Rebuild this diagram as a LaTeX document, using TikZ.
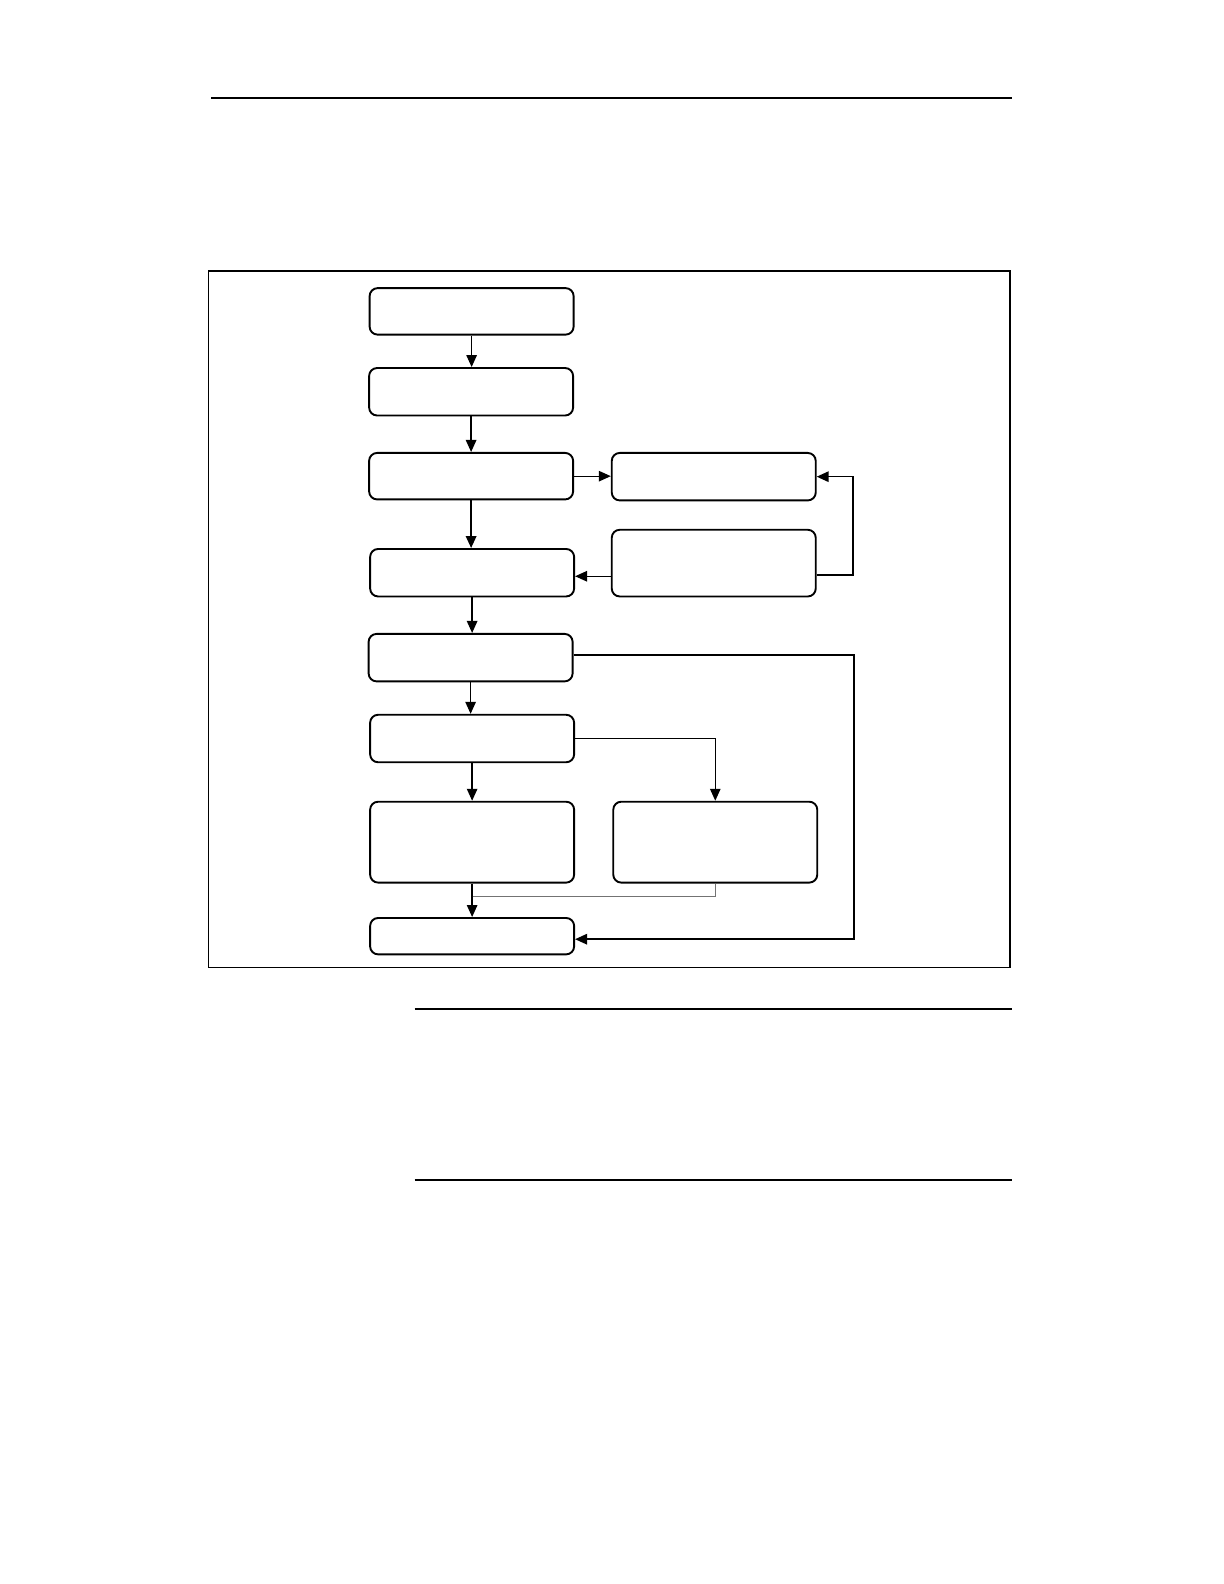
\documentclass[tikz,border=0pt]{standalone}
\usetikzlibrary{arrows.meta}
\begin{document}
\begin{tikzpicture}[x=1.011pt,y=-1.011pt,
  box/.style={draw,line width=1.9pt,rounded corners=8pt,inner sep=0pt,minimum width=204pt},
  arr/.style={line width=1.3pt,-{Triangle[length=12pt,width=10.5pt]}},
  arrthick/.style={line width=1.9pt,-{Triangle[length=12pt,width=10.5pt]}},
  loop/.style={line width=1.6pt,draw=black,-{Triangle[length=12pt,width=10.5pt]}},
  joinline/.style={line width=1pt,draw=black!55},
  rule/.style={line width=1.3pt}]
\useasboundingbox (0,0) rectangle (1210.7,1566.8);
\fill[white] (0,0) rectangle (1210.7,1566.8);
% page rules
\coordinate (t1) at (209,97); \coordinate (t2) at (1001,97);
\draw[rule] (t1) -- (t2);
\coordinate (m1) at (410,998); \coordinate (m2) at (1001,998);
\draw[rule] (m1) -- (m2);
\coordinate (b1) at (410,1167); \coordinate (b2) at (1001,1167);
\draw[line width=2pt] (b1) -- (b2);
% frame
\coordinate (f1) at (206,268); \coordinate (f2) at (999,957);
\draw[line width=1.2pt] (f1) rectangle (f2);
% boxes
\node[box,minimum height=46.5pt] (B1) at (466.5,308) {};
\node[box,minimum height=47.5pt] (B2) at (466,387.5) {};
\node[box,minimum height=46.5pt] (B3) at (466,471) {};
\node[box,minimum height=47.5pt] (R1) at (706,471.5) {};
\node[box,minimum height=47.5pt] (B4) at (467,566.5) {};
\node[box,minimum height=66.7pt] (R2) at (706,557) {};
\node[box,minimum height=47.5pt] (B5) at (465.5,650.5) {};
\node[box,minimum height=47.5pt] (B6) at (467,730.5) {};
\node[box,minimum height=80.9pt] (B7) at (467,833) {};
\node[box,minimum height=80.9pt] (R3) at (707.5,833) {};
\node[box,minimum height=36.4pt] (B8) at (467,926) {};
\coordinate (l1) at (845,648);
\coordinate (l2) at (845,929);
% connectors
\draw[arr] (B1.south) -- (B1.south |- B2.north);
\draw[arr] (B2.south) -- (B2.south |- B3.north);
\draw[arr] (B3.east) -- (B3.east -| R1.west);
\draw[arrthick] (B3.south) -- (B3.south |- B4.north);
\draw[arr] (R2.west |- 0,570) -- (B4.east |- 0,570);
\draw[loop] (R2.east |- 0,569) -- ++(36,0) |- (R1.east);
\draw[arr] (B4.south) -- (B4.south |- B5.north);
\draw[loop] (B5.east |- l1) -- (l1) -- (l2) -- (B8.east |- l2);
\draw[arr] (B5.south) -- (B5.south |- B6.north);
\draw[arr] (B6.east) -| (R3.north);
\draw[arr] (B6.south) -- (B6.south |- B7.north);
\draw[joinline] (R3.south) -- ++(0,13) -| (B7.south);
\draw[arr] (B7.south) -- (B8.north);
\end{tikzpicture}
\end{document}
